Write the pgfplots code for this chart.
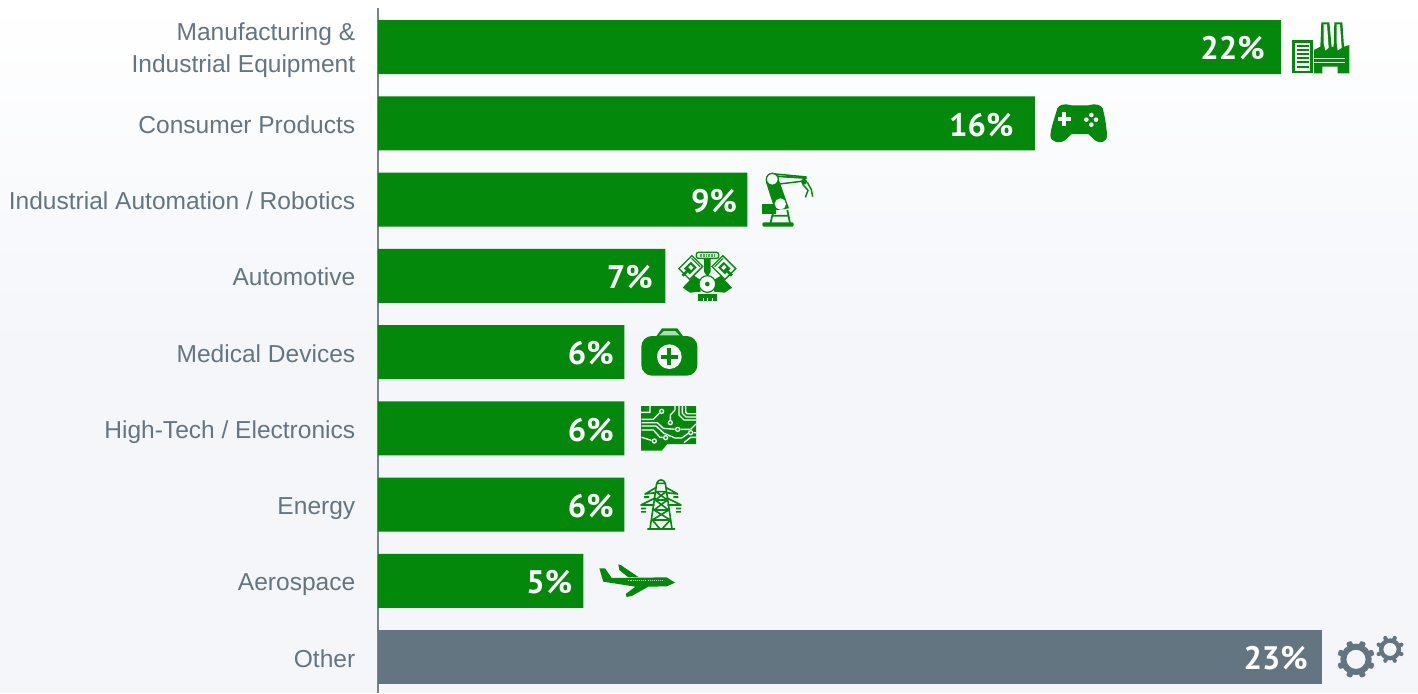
\documentclass[border=0pt]{standalone}
\usepackage{pgfplots}
\pgfplotsset{compat=1.18}
\usepackage{pgfplotstable}
\usepackage{fontspec}
\setmainfont{Liberation Sans}
\newfontfamily\pctfont{PT Sans}[BoldFont={PT Sans Bold}]
\definecolor{bargreen}{RGB}{3,136,11}
\definecolor{bargrey}{RGB}{100,117,130}
\definecolor{labelgrey}{RGB}{100,117,130}
\definecolor{axisgrey}{RGB}{118,130,142}
\definecolor{bgbottom}{RGB}{244,246,250}
\newcommand{\iconscope}[2]{\begin{scope}[shift={(#1*.75pt,-#2*.75pt)},x=.25pt,y=-.25pt]}
\newcommand{\st}{\rule[-4pt]{0pt}{23pt}}
\pgfplotstableread{
val row off
22 0 48.5
16 1 53.5
9 2 33.5
7 3 35.5
6 4 33.5
6 5 33.5
6 6 33.5
5 7 34
}\greentable
\pgfplotstableread{
val row off
23 8 46.5
}\greytable
\begin{document}
\begin{tikzpicture}
\path[use as bounding box] (0,0) rectangle (1418*.75pt,-693*.75pt);
\shade[top color=white,bottom color=bgbottom,shading angle=0] (0,0) rectangle (1418*.75pt,-350*.75pt);
\fill[bgbottom] (0,-693*.75pt) rectangle (1418*.75pt,-349*.75pt);
\begin{axis}[
  at={(378*.75pt,-693*.75pt)},anchor=south west,
  scale only axis,width=1040*.75pt,height=685*.75pt,
  xmin=0,xmax=25.335,ymin=-0.5115,ymax=8.472,y dir=reverse,
  xbar,bar width=54*.75pt,bar shift=0pt,
  axis x line=none,
  axis y line=left,
  axis line style={axisgrey,line width=1pt,-},
  ytick={0,1,2,3,4,5,6,7,8},
  yticklabels={{\rule{0pt}{17.5pt}Manufacturing \&\\\rule[-4pt]{0pt}{4pt}Industrial Equipment},\st Consumer Products,\st Industrial Automation / Robotics,\st Automotive,\st Medical Devices,\st High-Tech / Electronics,\st Energy,\st Aerospace,\st Other},
  major tick length=0pt,
  y tick label style={align=right,anchor=east,inner sep=0pt,xshift=-22.5*.75pt,font=\fontsize{18.4pt}{24pt}\selectfont,text=labelgrey},
  /pgf/number format/assume math mode=true,
  visualization depends on={\thisrow{off} \as \labeloff},
  nodes near coords={\pgfmathprintnumber{\pgfplotspointmeta}\%},
  point meta=x,
  nodes near coords style={anchor=center,inner sep=0pt,xshift=-\labeloff*.75pt,yshift=-1.1pt,text=white,font=\pctfont\bfseries\fontsize{24.4pt}{26pt}\selectfont},
  clip=false
]
\addplot[draw=none,fill=bargreen] table[x=val,y=row] {\greentable};
\addplot[draw=none,fill=bargrey] table[x=val,y=row] {\greytable};
\end{axis}

% factory
\iconscope{1180}{0}
\fill[bargreen] (337,120) rectangle (398,220);
\fill[white] (345,128) rectangle (390,214);
\foreach \y in {138,150,162,175,187,200} \fill[bargreen] (351,\y-3) rectangle (386,\y+3);
\fill[bargreen] (402,150)--(421,140)--(424,67)--(448,67)--(455,142)--(461,139)--(463,67)--(487,67)--(492,140)--(508,135)--(508,220)--(473,220)--(473,200)--(427,200)--(427,220)--(402,220)--cycle;
\fill[white] (431,73)--(441,73)--(446,143)--(436,152)--(431,130)--cycle;
\fill[white] (470,73)--(480,73)--(485,143)--(473,152)--(470,130)--cycle;
\draw[draw=white!80!bargreen,line width=1.2pt] (402,176)--(496,176) (402,188)--(496,188);
\end{scope}

% gamepad
\iconscope{1040}{95}
\fill[bargreen] (52,40) .. controls (58,28) and (75,25) .. (95,31) -- (145,31) .. controls (165,25) and (182,28) .. (188,40) .. controls (195,65) and (200,100) .. (201,122) .. controls (200,143) and (178,147) .. (165,136) -- (145,117) -- (95,117) -- (75,136) .. controls (62,147) and (32,143) .. (31,122) .. controls (32,100) and (45,65) .. (52,40) -- cycle;
\fill[white] (66,51) rectangle (79,92);
\fill[white] (53,65) rectangle (93,78);
\foreach \p in {(154,60),(154,89),(139,74),(168,74)} \fill[white] \p circle[radius=7];
\end{scope}

% robot
\iconscope{680}{165}
\fill[bargreen] (247,117) rectangle (287,147);
\fill[bargreen] (258,52)--(295,40)--(327,130)--(285,136)--cycle;
\draw[bargreen,line width=1.1pt] (277,26)--(380,36) (290,58)--(372,48);
\fill[bargreen] (270,30)--(380,36)--(380,42)--(285,36)--cycle;
\fill[white] (277,43) circle[radius=17];
\draw[bargreen,line width=1pt] (277,43) circle[radius=18];
\fill[white] (301,117) circle[radius=17];
\fill[bargreen] (372,50) circle[radius=9];
\draw[bargreen,line width=1.1pt] (368,58)--(384,76)--(376,97) (382,52)--(394,74)--(398,95);
\draw[bargreen,line width=1.3pt] (278,147)--(271,175) (322,135)--(330,175) (275,152)--(325,152);
\fill[bargreen,rounded corners=1pt] (247,172) rectangle (341,185);
\end{scope}

% engine
\iconscope{670}{245}
\draw[bargreen,line width=1pt,rounded corners=1.5pt] (79,22) rectangle (146,40);
\foreach \x in {91,99,107,115,123,131} \fill[bargreen!70!white] (\x,27) rectangle (\x+5,36);
\fill[bargreen] (102,42)--(122,42)--(122,80)--(112,95)--(102,80)--cycle;
\begin{scope}[rotate around={-45:(62,68)}]
\draw[bargreen,line width=1pt] (39,40) rectangle (85,95);
\draw[bargreen,line width=.8pt] (44,46) -- (80,46);
\fill[bargreen] (50,55) rectangle (74,84);
\fill[white] (56,62) rectangle (68,72);
\fill[bargreen] (58,84) rectangle (66,102);
\end{scope}
\begin{scope}[rotate around={45:(162,68)}]
\draw[bargreen,line width=1pt] (139,40) rectangle (185,95);
\draw[bargreen,line width=.8pt] (144,46) -- (180,46);
\fill[bargreen] (150,55) rectangle (174,84);
\fill[white] (156,62) rectangle (168,72);
\fill[bargreen] (158,84) rectangle (166,102);
\end{scope}
\fill[bargreen] (38,128)--(72,92)--(92,105)--(92,140)--(60,143)--cycle;
\fill[bargreen] (186,128)--(152,92)--(132,105)--(132,140)--(164,143)--cycle;
\fill[white] (112,117) circle[radius=25];
\draw[bargreen,line width=.9pt] (112,117) circle[radius=25];
\fill[bargreen] (112,117) circle[radius=7];
\fill[bargreen] (85,146) rectangle (140,168);
\foreach \x in {100,113,126} \fill[white] (\x-1,160) rectangle (\x+1,168);
\end{scope}

% medical bag
\iconscope{560}{320}
\fill[bargreen,rounded corners=8pt] (244,48) rectangle (412,167);
\fill[bargreen] (288,50)--(306,25)--(352,25)--(370,50)--cycle;
\fill[white!70!bargreen] (298,46)--(312,33)--(345,33)--(358,46)--cycle;
\fill[white] (328,110) circle[radius=37];
\fill[bargreen] (322,85) rectangle (334,135);
\fill[bargreen] (303,104) rectangle (353,116);
\end{scope}

% circuit
\iconscope{560}{320}
\fill[bargreen] (243,258)--(408,258)--(408,372)--(322,372)--(305,392)--(243,392)--cycle;
\draw[white,line width=1pt] (243,277)--(270,277)--(270,258)
 (245,298)--(280,298)--(299,279)
 (245,308)--(292,308)--(310,325)--(347,328)
 (245,318)--(288,318)--(312,340)--(345,354)--(365,354)--(385,340)
 (245,330)--(280,330)--(300,352)--(311,352)
 (245,352)--(277,362)
 (331,300)--(331,285)--(345,270)--(345,258)
 (357,258)--(357,285)--(372,300)--(408,300)
 (367,258)--(367,280)--(378,291)--(408,291)
 (377,258)--(377,276)--(382,281)--(408,281)
 (359,328)--(392,328)--(408,312)
 (372,368)--(392,352)--(408,352)
 (397,338)--(408,338);
\foreach \x/\y in {305/274,331/308,353/328,392/338,283/363,317/353}
  {\fill[bargreen] (\x,\y) circle[radius=9]; \draw[white,line width=1pt] (\x,\y) circle[radius=6];}
\end{scope}

% pylon
\iconscope{560}{470}
\draw[bargreen,line width=1.2pt,line join=round]
 (290,40)--(270,177) (316,40)--(336,177) (262,177)--(345,177)
 (290,40) .. controls (295,26) and (311,26) .. (316,40) (290,40)--(316,40)
 (288,65)--(318,65) (286,90)--(322,90) (282,120)--(326,120) (277,150)--(331,150)
 (288,65)--(322,90) (318,65)--(286,90) (286,90)--(326,120) (322,90)--(282,120) (282,120)--(331,150) (326,120)--(277,150)
 (277,150)--(300,177) (331,150)--(306,177)
 (289,52)--(255,72)--(287,68) (317,52)--(353,72)--(319,68)
 (287,83)--(243,105)--(284,105) (319,83)--(363,105)--(322,105);
\fill[bargreen] (252,78) rectangle (267,84) (340,78) rectangle (355,84);
\fill[bargreen] (243,113) rectangle (258,118) (243,123) rectangle (258,128) (348,113) rectangle (363,118) (348,123) rectangle (363,128);
\end{scope}

% plane
\iconscope{560}{470}
\fill[bargreen] (118,295)--(135,295)--(155,324)--(320,322)--(345,338)--(320,349)--(265,350)--(215,378)--(200,381)--(197,372)--(226,350)--(130,335)--cycle;
\fill[bargreen] (175,283)--(182,285)--(235,321)--(205,322)--(178,300)--cycle;
\draw[white!70!bargreen,line width=.6pt,dash pattern=on .8pt off .8pt] (205,331)--(310,331);
\end{scope}

% gears
\iconscope{1220}{620}
\draw[bargrey,line width=4.5pt] (408,118) circle[radius=38];
\foreach \a in {22.5,67.5,...,337.5} \fill[bargrey,rotate around={\a:(408,118)},rounded corners=1pt] (408+40,118-9) rectangle (408+57,118+9);
\draw[bargrey,line width=3.25pt] (510,88) circle[radius=26.5];
\foreach \a in {22.5,67.5,...,337.5} \fill[bargrey,rotate around={\a:(510,88)},rounded corners=1pt] (510+26,88-6) rectangle (510+43,88+6);
\end{scope}
\end{tikzpicture}
\end{document}
